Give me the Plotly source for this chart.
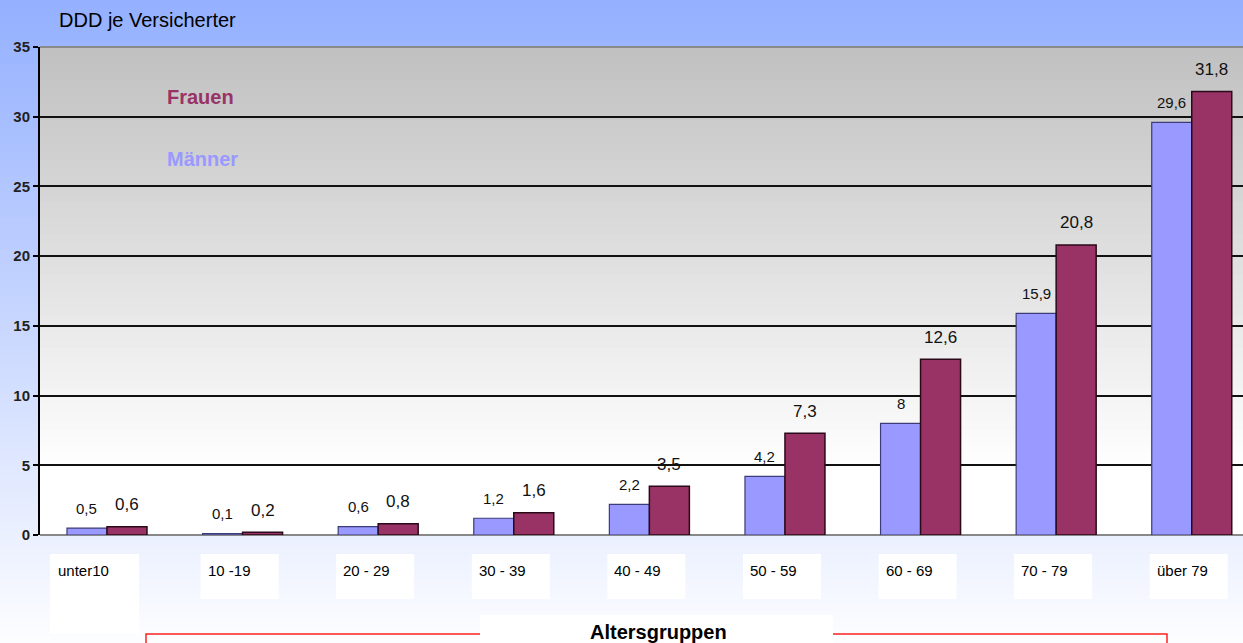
import plotly.graph_objects as go

categories = ["unter10", "10 -19", "20 - 29", "30 - 39", "40 - 49", "50 - 59", "60 - 69", "70 - 79", "über 79"]
maenner = [0.5, 0.1, 0.6, 1.2, 2.2, 4.2, 8, 15.9, 29.6]
frauen = [0.6, 0.2, 0.8, 1.6, 3.5, 7.3, 12.6, 20.8, 31.8]
y_ticks = [0, 5, 10, 15, 20, 25, 30, 35]

W, H = 1243, 643
L, R, T, B = 40, 0, 47, 108
pw, ph = W - L - R, H - T - B
FONT = "Liberation Sans, Arial, sans-serif"


def px(x):
    return (x - L) / pw


def py(y):
    return (H - B - y) / ph


def fmt(v):
    return f"{v:g}".replace(".", ",")


def lerp(a, b, t):
    return tuple(round(a[i] + (b[i] - a[i]) * t) for i in range(3))


fig = go.Figure()
fig.add_trace(go.Bar(x=categories, y=maenner, name="Männer",
                     marker=dict(color="#9999ff", line=dict(color="#3c3c78", width=1.2))))
fig.add_trace(go.Bar(x=categories, y=frauen, name="Frauen",
                     marker=dict(color="#993366", line=dict(color="#2a0a18", width=1.5))))

shapes = []
# page background gradient
N = 80
for k in range(N):
    y0p, y1p = k * H / N, (k + 1) * H / N + 1
    c = lerp((148, 176, 255), (252, 253, 255), k / (N - 1))
    shapes.append(dict(type="rect", xref="paper", yref="paper", x0=px(0), x1=px(W),
                       y0=py(y1p), y1=py(y0p), fillcolor="rgb(%d,%d,%d)" % c,
                       line=dict(width=0), layer="below"))
# plot area gradient
M = 60
for k in range(M):
    y0p = T + k * ph / M
    y1p = T + (k + 1) * ph / M + 1
    mid = (y0p + y1p) / 2
    t = min(1.0, (mid - T) / (470 - T))
    c = lerp((192, 192, 192), (255, 255, 255), t)
    shapes.append(dict(type="rect", xref="paper", yref="paper", x0=0, x1=1,
                       y0=py(min(y1p, H - B)), y1=py(y0p), fillcolor="rgb(%d,%d,%d)" % c,
                       line=dict(width=0), layer="below"))
# top border line (grey)
shapes.append(dict(type="line", xref="paper", yref="paper", x0=0, x1=1, y0=1, y1=1,
                   line=dict(color="#8a8a8a", width=2), layer="above"))

# white tick-label boxes
for i, cat in enumerate(categories):
    if i == 0:
        x0, x1, yb = -57, 32, -99
    else:
        x0, x1, yb = -42, 36, -64
    shapes.append(dict(type="rect", xref="x", yref="paper", xsizemode="pixel", xanchor=i,
                       ysizemode="pixel", yanchor=0, x0=x0, x1=x1, y0=-19, y1=yb,
                       fillcolor="white", line=dict(width=0), layer="above"))

# red frame and title box
shapes.append(dict(type="rect", xref="paper", yref="paper", x0=px(146), x1=px(1167),
                   y0=py(660), y1=py(634), fillcolor="rgba(0,0,0,0)",
                   line=dict(color="#ff2020", width=1.5), layer="above"))
shapes.append(dict(type="rect", xref="paper", yref="paper", x0=px(480), x1=px(833),
                   y0=py(660), y1=py(615), fillcolor="white",
                   line=dict(width=0), layer="above"))

ann = []
for i, cat in enumerate(categories):
    ann.append(dict(x=cat, xref="x", y=0, yref="paper", text=cat, showarrow=False,
                    xanchor="left", yanchor="middle", xshift=(-51 if i == 0 else -37), yshift=-35,
                    font=dict(family=FONT, size=15, color="black")))
    ann.append(dict(x=cat, xref="x", y=maenner[i], yref="y", text=fmt(maenner[i]), showarrow=False,
                    xanchor="center", yanchor="middle", xshift=-20, yshift=20,
                    font=dict(family=FONT, size=15, color="#111")))
    ann.append(dict(x=cat, xref="x", y=frauen[i], yref="y", text=fmt(frauen[i]), showarrow=False,
                    xanchor="center", yanchor="middle", xshift=20, yshift=22,
                    font=dict(family=FONT, size=17, color="#111")))

ann.append(dict(x=px(57), xref="paper", y=py(20), yref="paper", text="DDD je Versicherter",
                showarrow=False, xanchor="left", yanchor="middle",
                font=dict(family=FONT, size=20, color="black")))
ann.append(dict(x=px(165), xref="paper", y=py(97), yref="paper", text="<b>Frauen</b>",
                showarrow=False, xanchor="left", yanchor="middle",
                font=dict(family=FONT, size=20, color="#993366")))
ann.append(dict(x=px(165), xref="paper", y=py(159), yref="paper", text="<b>Männer</b>",
                showarrow=False, xanchor="left", yanchor="middle",
                font=dict(family=FONT, size=20, color="#9999ff")))
ann.append(dict(x=px(658), xref="paper", y=py(632), yref="paper", text="<b>Altersgruppen</b>",
                showarrow=False, xanchor="center", yanchor="middle",
                font=dict(family=FONT, size=20, color="black")))

fig.update_layout(
    width=W, height=H, autosize=False,
    margin=dict(l=L, r=R, t=T, b=B, pad=0),
    paper_bgcolor="white", plot_bgcolor="rgba(0,0,0,0)",
    barmode="group", bargap=0.41, bargroupgap=0,
    showlegend=False,
    shapes=shapes, annotations=ann,
    xaxis=dict(type="category", range=[-0.494, 8.378], showticklabels=False, ticks="",
               showgrid=False, zeroline=False, showline=False),
    yaxis=dict(range=[0, 35], tickvals=y_ticks, showgrid=True, gridcolor="#111", gridwidth=1.5,
               zeroline=True, zerolinecolor="#888", zerolinewidth=2,
               showline=True, linecolor="black", linewidth=2,
               ticks="outside", ticklen=5, tickwidth=1.5, tickcolor="black",
               tickfont=dict(family=FONT, size=15, color="#222", weight="bold")),
)

fig.write_html("out.html")
